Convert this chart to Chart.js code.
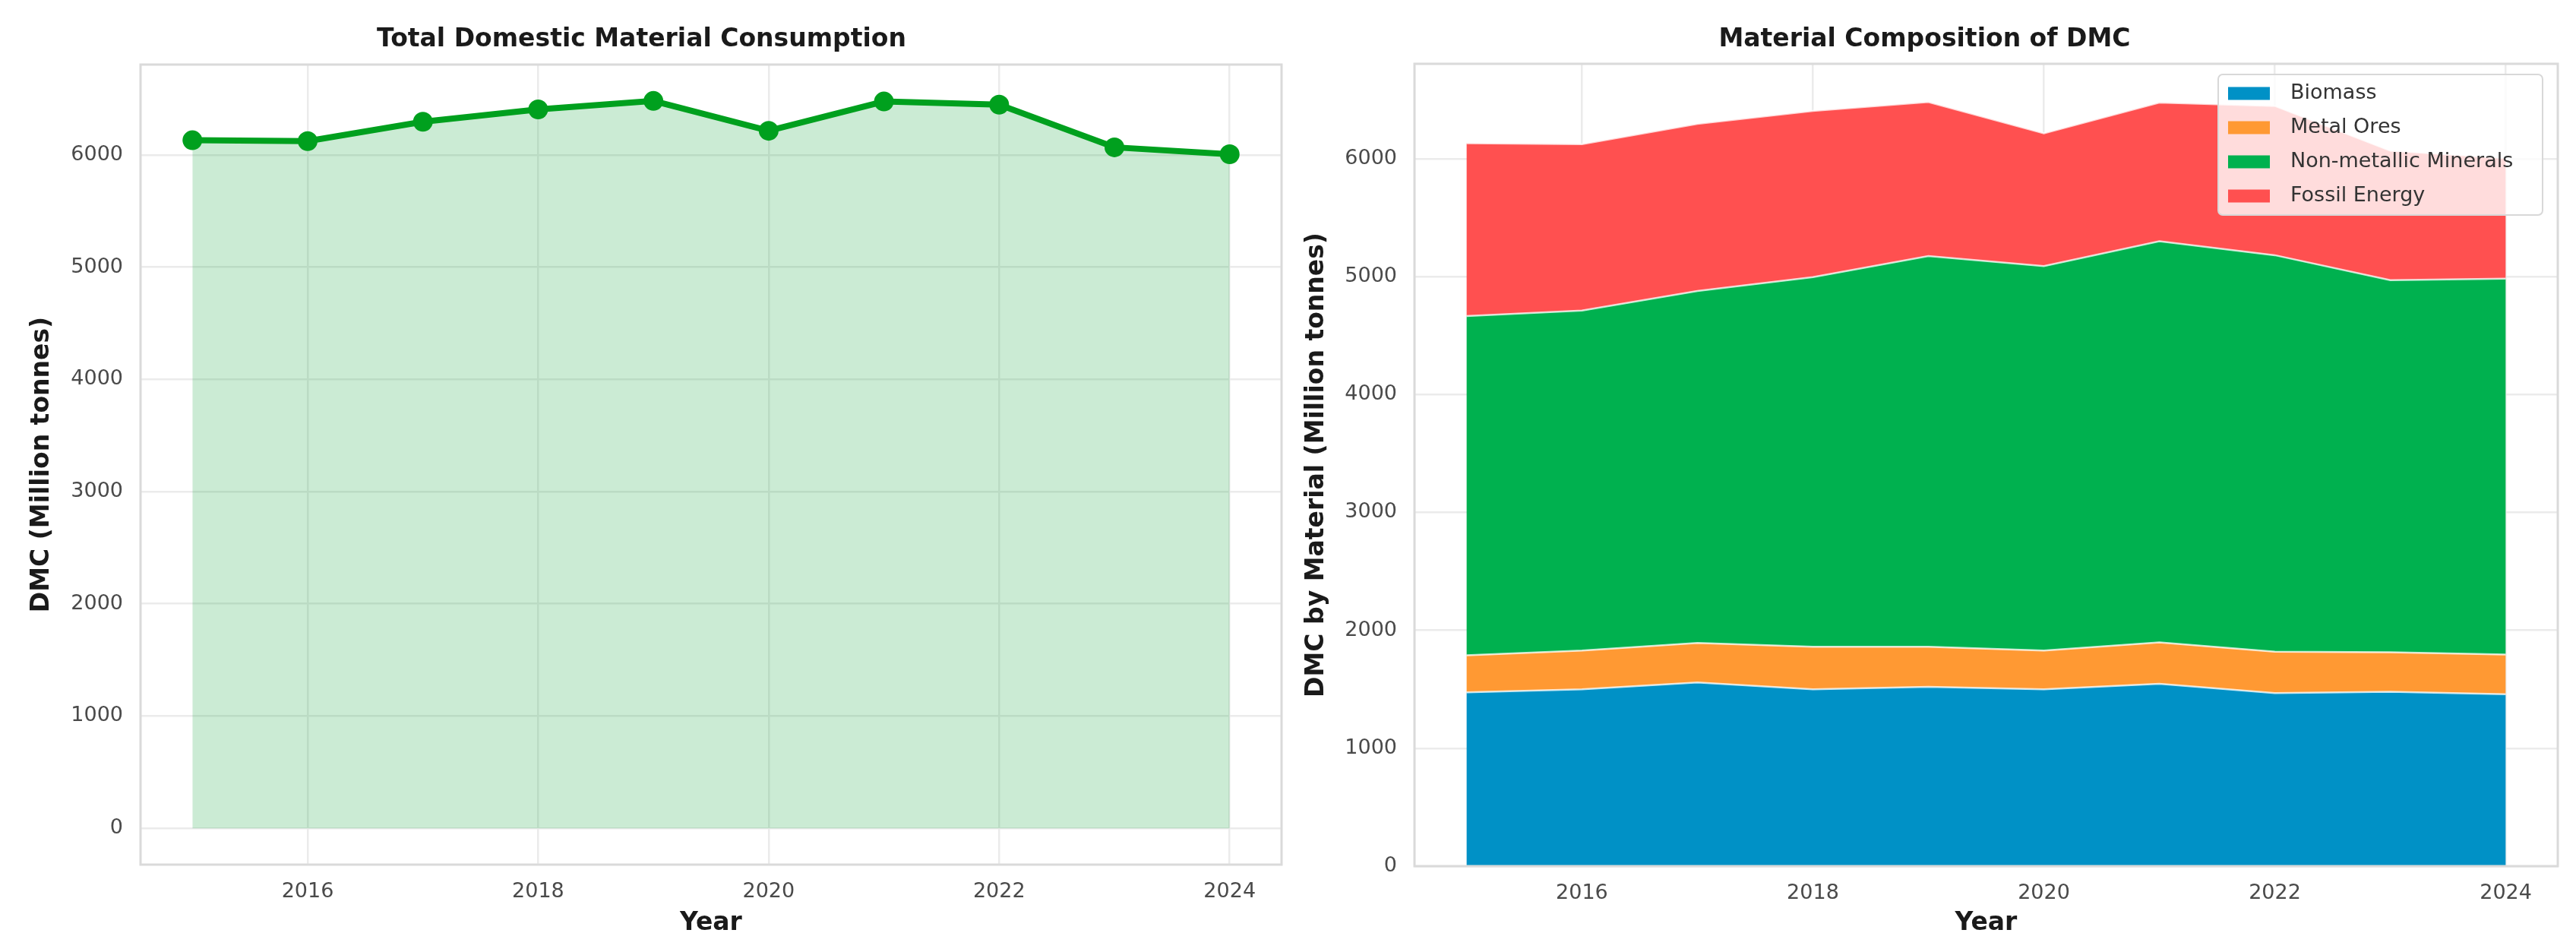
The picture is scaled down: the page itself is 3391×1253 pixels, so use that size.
<!DOCTYPE html>
<html>
<head>
<meta charset="utf-8">
<script src="https://cdn.jsdelivr.net/npm/chart.js@4.4.1/dist/chart.umd.min.js"></script>
<style>
  body { margin: 0; background: #fff; }
  .panel { position: absolute; top: 0; }
</style>
</head>
<body>
<div class="panel" style="left:0"><canvas id="totalChart" width="1700" height="1253"></canvas></div>
<div class="panel" style="left:1700px"><canvas id="compChart" width="1691" height="1253"></canvas></div>
<script>
// data
const years = [2015, 2016, 2017, 2018, 2019, 2020, 2021, 2022, 2023, 2024];
const totalDmc = [6130, 6122, 6295, 6405, 6480, 6214, 6475, 6447, 6067, 6005];
const biomass = [1474, 1500, 1557, 1500, 1521, 1500, 1547, 1468, 1479, 1458];
const metalOres = [314, 328, 336, 361, 340, 328, 351, 351, 335, 336];
const nonMetallic = [2877, 2884, 2984, 3134, 3313, 3260, 3402, 3362, 3155, 3188];
const fossilEnergy = [1465, 1410, 1418, 1410, 1306, 1126, 1175, 1266, 1098, 1023];
const materialNames = ["Biomass", "Metal Ores", "Non-metallic Minerals", "Fossil Energy"];
const materialColors = ["#0091c6", "#ff9933", "#00b14f", "#ff5050"];
const xTicks = [2016, 2018, 2020, 2022, 2024];
const yTicks = [0, 1000, 2000, 3000, 4000, 5000, 6000];

Chart.defaults.font.family = "'DejaVu Sans', sans-serif";

function points(vals) {
  return vals.map((v, i) => ({ x: years[i], y: v }));
}

// light grey frame round the plot, like the seaborn spines
const framePlugin = {
  id: "frame",
  afterDatasetsDraw(chart) {
    const a = chart.chartArea;
    const ctx = chart.ctx;
    ctx.save();
    ctx.strokeStyle = "#dadada";
    ctx.lineWidth = 3;
    ctx.strokeRect(a.left, a.top, a.right - a.left, a.bottom - a.top);
    ctx.restore();
  },
};

// legend box in the upper right corner of the plot
const boxLegend = {
  id: "boxLegend",
  afterDraw(chart) {
    const ctx = chart.ctx;
    const a = chart.chartArea;
    const sets = chart.data.datasets;
    ctx.save();
    ctx.font = "27px 'DejaVu Sans'";
    let tw = 0;
    sets.forEach((d) => { tw = Math.max(tw, ctx.measureText(d.label).width); });
    const w = Math.max(427, 13 + 55 + 27 + tw + 13);
    const h = 185;
    const x = a.right - 20 - w;
    const y = a.top + 14;
    ctx.beginPath();
    ctx.roundRect(x, y, w, h, 6);
    ctx.fillStyle = "rgba(255,255,255,0.8)";
    ctx.fill();
    ctx.strokeStyle = "#d8d8d8";
    ctx.lineWidth = 2;
    ctx.stroke();
    ctx.textBaseline = "middle";
    sets.forEach((d, i) => {
      const cy = y + 25 + i * 45;
      ctx.fillStyle = d.backgroundColor;
      ctx.fillRect(x + 13, cy - 8.5, 55, 17);
      ctx.fillStyle = "#333";
      ctx.fillText(d.label, x + 13 + 55 + 27, cy);
    });
    ctx.restore();
  },
};

function axes(yLabel, yWidth, yTitlePad, xHeight, yMin) {
  return {
    x: {
      type: "linear",
      min: 2014.55,
      max: 2024.45,
      afterBuildTicks: (s) => { s.ticks = xTicks.map((v) => ({ value: v })); },
      afterFit: (s) => { s.height = xHeight; },
      grid: { color: "#ebebeb", lineWidth: 2.5, drawTicks: false },
      border: { display: false },
      ticks: { color: "#4a4a4a", font: { size: 27 }, padding: 20, callback: (v) => String(v) },
      title: { display: true, text: "Year", color: "#1a1a1a", font: { size: 33, weight: "bold" }, padding: { bottom: 18 } },
    },
    y: {
      min: yMin,
      max: 6804,
      stacked: yMin === 0,
      afterBuildTicks: (s) => { s.ticks = yTicks.map((v) => ({ value: v })); },
      afterFit: (s) => { s.width = yWidth; },
      grid: { color: "#ebebeb", lineWidth: 2.5, drawTicks: false },
      border: { display: false },
      ticks: { color: "#4a4a4a", font: { size: 27 }, padding: 23, callback: (v) => String(v) },
      title: { display: true, text: yLabel, color: "#1a1a1a", font: { size: 33, weight: "bold" }, padding: { top: yTitlePad } },
    },
  };
}

new Chart(document.getElementById("totalChart"), {
  type: "line",
  data: {
    datasets: [
      {
        label: "Total DMC",
        data: points(totalDmc),
        borderColor: "#00a01e",
        borderWidth: 8,
        pointRadius: 13,
        pointBackgroundColor: "#00a01e",
        pointBorderWidth: 0,
        fill: "origin",
        backgroundColor: "rgba(30,170,70,0.23)",
        tension: 0,
      },
    ],
  },
  options: {
    responsive: false,
    animation: false,
    devicePixelRatio: 1,
    layout: { padding: { top: 33, right: 11, left: 0, bottom: 0 } },
    plugins: {
      legend: { display: false },
      tooltip: { enabled: false },
      title: {
        display: true,
        text: "Total Domestic Material Consumption",
        color: "#1a1a1a",
        font: { size: 33, weight: "bold" },
        padding: { top: 0, bottom: 12.4 },
      },
    },
    scales: axes("DMC (Million tonnes)", 185, 36, 115, -324),
  },
  plugins: [framePlugin],
});

const layers = [biomass, metalOres, nonMetallic, fossilEnergy];

new Chart(document.getElementById("compChart"), {
  type: "line",
  data: {
    datasets: layers.map((vals, i) => ({
      label: materialNames[i],
      data: points(vals),
      backgroundColor: materialColors[i],
      borderColor: "rgba(255,255,255,0.75)",
      borderWidth: 2.5,
      pointRadius: 0,
      fill: i === 0 ? "origin" : "-1",
      tension: 0,
    })),
  },
  options: {
    responsive: false,
    animation: false,
    devicePixelRatio: 1,
    layout: { padding: { top: 33, right: 24, left: 0, bottom: 0 } },
    plugins: {
      legend: { display: false },
      tooltip: { enabled: false },
      title: {
        display: true,
        text: "Material Composition of DMC",
        color: "#1a1a1a",
        font: { size: 33, weight: "bold" },
        padding: { top: 0, bottom: 11.4 },
      },
    },
    scales: axes("DMC by Material (Million tonnes)", 162, 14, 113, 0),
  },
  plugins: [framePlugin, boxLegend],
});
</script>
</body>
</html>
